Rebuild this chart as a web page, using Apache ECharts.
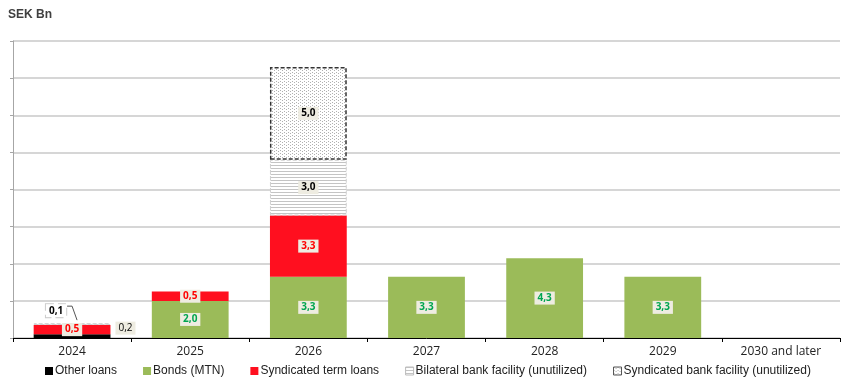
<!DOCTYPE html>
<html><head><meta charset="utf-8">
<script src="https://cdn.jsdelivr.net/npm/echarts@6/dist/echarts.min.js"></script>
<style>html,body{margin:0;padding:0;background:#fff}#c{width:850px;height:384px}</style>
</head><body><div id="c"></div>
<script>
const categories = ['2024','2025','2026','2027','2028','2029','2030 and later'];
const otherLoans = [0.2, null, null, null, null, null, null];
const bonds = [null, 2.0, 3.3, 3.3, 4.3, 3.3, null];
const syndicatedTerm = [0.5, 0.5, 3.3, null, null, null, null];
const bilateral = [0.1, null, 3.0, null, null, null, null];
const syndicatedFacility = [null, null, 5.0, null, null, null, null];
const yTicks = [0, 2, 4, 6, 8, 10, 12, 14, 16];

function linePattern(){
  const c = document.createElement('canvas'); c.width = 4; c.height = 3;
  const g = c.getContext('2d');
  g.fillStyle = '#fff'; g.fillRect(0,0,4,3);
  g.fillStyle = '#c4c4c4'; g.fillRect(0,0,4,1);
  return {image: c, repeat: 'repeat'};
}
function dotPattern(){
  const c = document.createElement('canvas'); c.width = 4; c.height = 3;
  const g = c.getContext('2d');
  g.fillStyle = '#fff'; g.fillRect(0,0,4,3);
  g.fillStyle = '#b0b0b0'; g.fillRect(0,0,1,1); g.fillRect(2,1,1,1);
  return {image: c, repeat: 'repeat'};
}
const fmt = p => (p.value == null ? '' : p.value.toFixed(1).replace('.', ','));
const lbl = (color) => ({
  show: true, formatter: fmt, color: color, fontWeight: 'bold', fontSize: 10,
  fontFamily: 'Open Sans, sans-serif', backgroundColor: '#eeece1', padding: [2,3,1,3]
});

const chart = echarts.init(document.getElementById('c'));
const bw = '65%';
chart.setOption({
  animation: false,
  title: {text: 'SEK Bn', left: 8, top: 9, padding: 0, textStyle: {fontSize: 12, fontWeight: 'bold', color: '#404040', fontFamily: 'Liberation Sans, Arial'}},
  grid: {left: 13, right: 10, top: 41, bottom: 46},
  legend: {
    top: 360, left: 40, width: 820, itemWidth: 8, itemHeight: 8, itemGap: 26,
    textStyle: {fontSize: 12, color: '#222', fontFamily: 'Liberation Sans, Arial', padding: [0,0,0,-3]},
    data: [
      {name: 'Other loans', icon: 'rect'},
      {name: 'Bonds (MTN)', icon: 'rect'},
      {name: 'Syndicated term loans', icon: 'rect'},
      {name: 'Bilateral bank facility (unutilized)', icon: 'rect', itemStyle: {borderColor: '#bbb', borderWidth: 1}},
      {name: 'Syndicated bank facility (unutilized)', icon: 'rect', itemStyle: {borderColor: '#555', borderWidth: 1}}
    ]
  },
  xAxis: {
    type: 'category', data: categories,
    axisLine: {lineStyle: {color: '#000', width: 1}},
    axisTick: {show: true, inside: false, length: 4, lineStyle: {color: '#000'}},
    axisLabel: {fontSize: 12, color: '#222', fontFamily: 'Open Sans, sans-serif', margin: 8}
  },
  yAxis: {
    type: 'value', min: 0, max: 16, interval: 2,
    axisLine: {show: true, lineStyle: {color: '#a6a6a6'}},
    axisTick: {show: true, length: 3, lineStyle: {color: '#a6a6a6'}},
    axisLabel: {show: false},
    splitLine: {lineStyle: {color: '#c8c8c8', width: 1.5}}
  },
  series: [
    {name: 'Other loans', type: 'bar', stack: 's', barWidth: bw, data: otherLoans.map((v,i)=> i===0 ? {value: v, label: {position: 'right', offset: [0,-8], color: '#000'}} : v),
     itemStyle: {color: '#000'}, label: Object.assign(lbl('#000'), {fontWeight: 'normal'})},
    {name: 'Bonds (MTN)', type: 'bar', stack: 's', barWidth: bw, data: bonds,
     itemStyle: {color: '#9bbb59'}, label: lbl('#00a550')},
    {name: 'Syndicated term loans', type: 'bar', stack: 's', barWidth: bw, data: syndicatedTerm,
     itemStyle: {color: '#ff0f1f'}, label: lbl('#ff0000')},
    {name: 'Bilateral bank facility (unutilized)', type: 'bar', stack: 's', barWidth: bw,
     data: bilateral.map((v,i)=> i===0 ? {value: v, label: {position: 'top', offset: [-16,-1], backgroundColor: '#fff', borderColor: '#ccc', borderType: 'dashed', borderWidth: 1}} : v),
     itemStyle: {color: linePattern(), borderColor: '#d0d0d0', borderWidth: 1, borderType: 'dashed'}, label: lbl('#000')},
    {name: 'Syndicated bank facility (unutilized)', type: 'bar', stack: 's', barWidth: bw, data: syndicatedFacility,
     itemStyle: {color: dotPattern(), borderColor: '#333', borderWidth: 1.5, borderType: [4,2]}, label: lbl('#000')}
  ]
});
// leader line for the small 2024 bilateral label
const topVal = (otherLoans[0]||0) + (syndicatedTerm[0]||0) + (bilateral[0]||0);
const pTop = chart.convertToPixel({gridIndex: 0}, [0, topVal]);
chart.setOption({graphic: [{type: 'polyline', silent: true, shape: {points: [[pTop[0]-5, pTop[1]-17], [pTop[0], pTop[1]-17], [pTop[0]+5, pTop[1]-3]]}, style: {stroke: '#555', lineWidth: 1, fill: null}}]});
</script></body></html>
